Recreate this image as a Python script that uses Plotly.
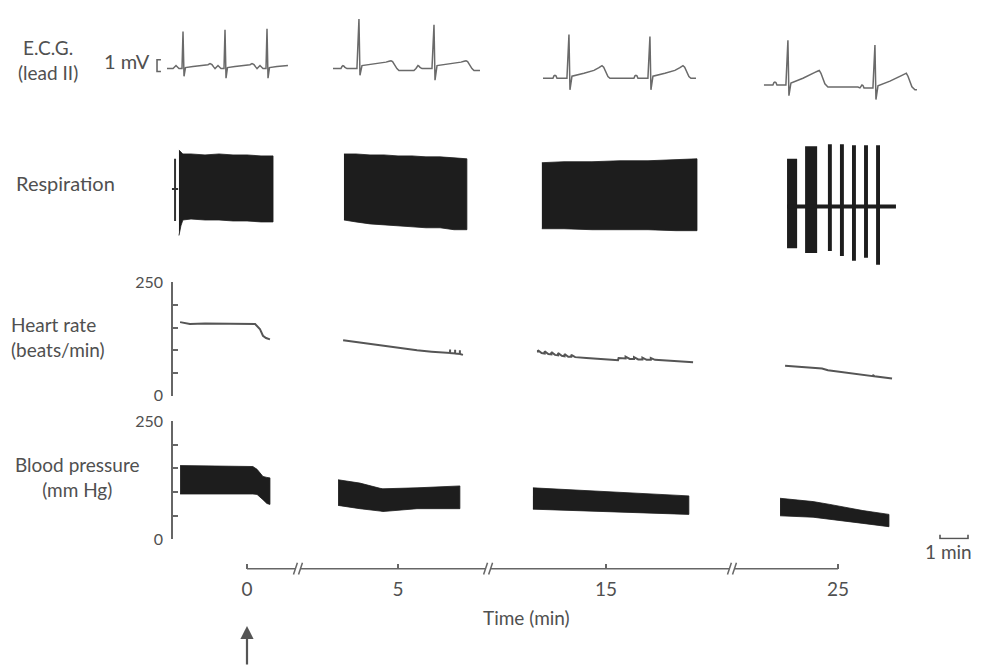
import plotly.graph_objects as go

# ---------------------------------------------------------------- data
# Broken time axis: tick times (min) and their labels
TIME_TICKS_MIN = [0, 5, 15, 25]
TIME_TICK_LABELS = ["0", "5", "15", "25"]

# Heart rate (beats/min) per recording segment, time in min
HR_A_T = [-2.39, -2.04, -1.5, -1.0, -0.5, 0.0, 0.29, 0.46, 0.57, 0.68, 0.82]
HR_A_V = [162, 158, 159, 159, 159, 159, 158, 147, 132, 127, 124]
HR_B_T = [3.04, 3.5, 4.0, 4.46, 5.0, 5.68, 6.2, 6.75, 6.86, 6.86, 6.86, 7.04, 7.04, 7.04, 7.21, 7.21, 7.21, 7.32]
HR_B_V = [122, 118, 114, 111, 106, 100, 97, 95, 94, 102, 94, 93, 101, 93, 92, 100, 92, 90]
HR_C_T = [12.57, 12.57, 12.70, 12.81, 12.81, 12.94, 13.05, 13.05, 13.18, 13.29, 13.29, 13.42,
          13.52, 13.52, 13.65, 13.76, 13.76, 13.90, 14.3, 14.8, 15.2, 15.43, 15.45, 15.7, 15.7,
          15.85, 16.0, 16.0, 16.15, 16.3, 16.3, 16.45, 16.6, 16.6, 16.75, 17.3, 17.8, 18.11]
HR_C_V = [95, 100, 94, 93, 98, 92, 91, 96, 90, 89, 94, 88, 87, 92, 86, 86, 90, 85, 83, 80, 79,
          78, 83, 82, 86, 81, 81, 85, 80, 80, 84, 79, 79, 83, 79, 77, 76, 74]
HR_D_T = [23.11, 23.5, 24.0, 24.43, 24.64, 25.2, 25.89, 26.25, 26.25, 26.3, 26.93]
HR_D_V = [66, 64, 63, 60, 56, 52, 47, 43, 46, 43, 38]

# Blood pressure (mm Hg): systolic / diastolic envelope, time in min
BP_A_T = [-2.39, 0.0, 0.21, 0.36, 0.57, 0.71, 0.82]
BP_A_SYS = [156, 155, 154, 148, 133, 131, 130]
BP_A_DIA = [96, 96, 96, 95, 84, 76, 74]
BP_B_T = [2.86, 3.64, 4.36, 4.46, 5.68, 7.21]
BP_B_SYS = [126, 119, 108, 107, 109, 113]
BP_B_DIA = [72, 65, 60, 59, 65, 65]
BP_C_T = [12.39, 15.0, 17.96]
BP_C_SYS = [109, 101, 92]
BP_C_DIA = [64, 58, 53]
BP_D_T = [22.93, 24.11, 24.71, 25.89, 26.82]
BP_D_SYS = [87, 80, 74, 61, 53]
BP_D_DIA = [50, 47, 43, 34, 27]

# Respiration (arbitrary units): envelope of the fast trace, time in min
RESP_A_T = [-2.43, -2.36, -2.29, -2.0, -1.5, -1.0, -0.5, 0.0, 0.5, 0.93]
RESP_A_UP = [5.6, 5.4, 5.2, 5.2, 5.1, 5.2, 5.1, 5.1, 5.0, 5.0]
RESP_A_LO = [-3.2, -2.2, -1.6, -1.5, -1.6, -1.6, -1.7, -1.7, -1.8, -1.8]
RESP_B_T = [3.07, 3.5, 4.0, 4.5, 5.0, 5.5, 6.0, 6.5, 7.0, 7.46]
RESP_B_UP = [5.2, 5.2, 5.1, 5.1, 5.0, 5.0, 4.9, 4.9, 4.8, 4.7]
RESP_B_LO = [-1.6, -1.8, -2.0, -2.1, -2.2, -2.3, -2.4, -2.4, -2.6, -2.6]
RESP_C_T = [12.71, 13.5, 14.5, 15.5, 16.5, 17.5, 18.25]
RESP_C_UP = [4.3, 4.4, 4.4, 4.5, 4.5, 4.6, 4.7]
RESP_C_LO = [-2.5, -2.5, -2.6, -2.6, -2.6, -2.7, -2.7]
RESP_D_BASE_T = [23.18, 27.07]
RESP_D_BASE_V = [-0.2, -0.2]
RESP_D_BREATH_T = [23.36, 24.04, 24.71, 25.14, 25.57, 26.0, 26.43]
RESP_D_TOP = [4.7, 6.0, 6.2, 6.2, 6.1, 6.1, 6.1]
RESP_D_BOT = [-4.5, -5.0, -4.8, -5.3, -5.8, -5.5, -6.2]
RESP_CAL_T = -2.57
RESP_CAL_RANGE = [4.7, -1.7]
RESP_CAL_MARK = 1.6

# ECG (lead II): per sweep, R-wave times (s from sweep start), amplitudes (mV)
ECG_SWEEP_LEN_S = [1.080, 1.3125, 1.366, 1.366]
ECG_BASE_MV = [3.33, 3.33, 2.5, 1.92]
ECG_R_TIMES = [[0.143, 0.518, 0.893], [0.232, 0.902], [0.232, 0.955], [0.214, 0.991]]
ECG_R_AMP = [[3.17, 3.33, 3.42], [4.25, 3.75], [3.75, 3.58], [3.83, 3.67]]
ECG_S_AMP = [[-0.67, -0.83, -0.83], [-0.58, -1.0], [-1.0, -1.0], [-0.92, -1.0]]
ECG_BEAT_SHIFT = [[0, 0, 0], [0, 0], [0, 0], [0, -0.25]]
# beat shapes (s relative to R, mV); None = R then S deflection
ECG_TPL_T = [
    [-0.089, -0.071, -0.0625, -0.054, -0.036, -0.009, 0.0, 0.009, 0.022, 0.089, 0.179, 0.223,
     0.241, 0.259, 0.275, 0.286],
    [-0.161, -0.152, -0.143, -0.134, -0.125, -0.107, -0.089, -0.018, 0.0, 0.009, 0.027, 0.089,
     0.179, 0.241, 0.268, 0.286, 0.300, 0.321, 0.339, 0.357, 0.491, 0.509],
    [-0.143, -0.134, -0.125, -0.116, -0.107, -0.018, 0.0, 0.009, 0.027, 0.134, 0.223, 0.268,
     0.295, 0.310, 0.330, 0.348, 0.366, 0.384],
    [-0.134, -0.125, -0.116, -0.107, -0.098, -0.018, 0.0, 0.009, 0.027, 0.134, 0.196, 0.241,
     0.268, 0.280, 0.295, 0.313, 0.330, 0.357, 0.625],
]
ECG_TPL_V = [
    [0, 0.17, 0.25, 0.17, 0, 0, None, None, 0.08, 0.17, 0.25, 0.33, 0.42, 0.33, 0.12, 0],
    [0, 0.17, 0.25, 0.2, 0.1, 0, 0, 0, None, None, 0.25, 0.33, 0.42, 0.55, 0.62, 0.67, 0.6,
     0.25, 0.0, -0.17, -0.17, 0],
    [0, 0.2, 0.25, 0.2, 0, 0, None, None, 0.17, 0.42, 0.67, 0.9, 1.08, 0.95, 0.5, 0.15, 0, 0],
    [0, 0.2, 0.25, 0.2, 0, 0, None, None, 0.17, 0.58, 0.83, 1.08, 1.2, 1.25, 1.0, 0.5, 0.1,
     -0.17, -0.17],
]
ECG_CAL_MV = 1.0
ECG_CAL_BOTTOM_MV = 3.08

# ---------------------------------------------------------------- layout constants
W, H = 987, 666
OFF = 8                      # page body margin in which the figure sits
FW, FH = W - OFF, H - OFF    # figure size
PX_PER_MIN = 28.0            # chart speed of the slow traces (1 min scale bar)
PX_PER_S = 112.0             # chart speed of the ECG sweeps
ZERO_PX = 247                # screen position of time 0
SEG_DISPLAY = [0.0, 5.393, 12.821, 21.107]   # display position of each tick time
BREAKS = [1.82, 8.61, 17.32]
ECG_X0 = [1.491, 2.973, 4.848, 6.821]        # display start of each ECG sweep (s)
ECG_CAL_X = 1.402

GREY_TXT = "#505050"
INK = "#1d1d1d"
FONT = "Lato, 'Open Sans', sans-serif"


def px(p):
    return (p - OFF) / FW


def py(p):
    return 1 - (p - OFF) / FH


def disp(seg, ts):
    return [SEG_DISPLAY[seg] + (t - TIME_TICKS_MIN[seg]) for t in ts]


fig = go.Figure()

# ---- ECG sweeps
for k in range(4):
    xs, ys = [0.0], [ECG_BASE_MV[k] + ECG_BEAT_SHIFT[k][0]]
    last = ys[0]
    for b, r in enumerate(ECG_R_TIMES[k]):
        n_none = 0
        for dt, v in zip(ECG_TPL_T[k], ECG_TPL_V[k]):
            if v is None:
                v = ECG_R_AMP[k][b] if n_none == 0 else ECG_S_AMP[k][b]
                n_none += 1
            t = r + dt
            if 0 <= t <= ECG_SWEEP_LEN_S[k]:
                xs.append(t)
                last = ECG_BASE_MV[k] + ECG_BEAT_SHIFT[k][b] + v
                ys.append(last)
    xs.append(ECG_SWEEP_LEN_S[k])
    ys.append(last)
    fig.add_trace(go.Scatter(x=[ECG_X0[k] + t for t in xs], y=ys, mode="lines",
                             line=dict(color="#6a6a6a", width=1.5),
                             xaxis="x2", yaxis="y", hoverinfo="skip"))
# 1 mV calibration bracket
fig.add_trace(go.Scatter(
    x=[ECG_CAL_X + 0.035, ECG_CAL_X, ECG_CAL_X, ECG_CAL_X + 0.035],
    y=[ECG_CAL_BOTTOM_MV + ECG_CAL_MV, ECG_CAL_BOTTOM_MV + ECG_CAL_MV, ECG_CAL_BOTTOM_MV, ECG_CAL_BOTTOM_MV],
    mode="lines", line=dict(color="#666", width=1.6), xaxis="x2", yaxis="y", hoverinfo="skip"))


def band(seg, ts, up, lo, yaxis):
    xs = disp(seg, ts)
    fig.add_trace(go.Scatter(x=xs + xs[::-1], y=list(up) + list(lo)[::-1], mode="lines",
                             fill="toself", fillcolor=INK, line=dict(color=INK, width=0.8),
                             xaxis="x", yaxis=yaxis, hoverinfo="skip"))


# ---- respiration
band(0, RESP_A_T, RESP_A_UP, RESP_A_LO, "y2")
band(1, RESP_B_T, RESP_B_UP, RESP_B_LO, "y2")
band(2, RESP_C_T, RESP_C_UP, RESP_C_LO, "y2")
fig.add_trace(go.Scatter(x=disp(3, RESP_D_BASE_T), y=RESP_D_BASE_V, mode="lines",
                         line=dict(color=INK, width=4), xaxis="x", yaxis="y2", hoverinfo="skip"))
fig.add_trace(go.Bar(x=disp(3, RESP_D_BREATH_T),
                     y=[a - b for a, b in zip(RESP_D_TOP, RESP_D_BOT)], base=RESP_D_BOT,
                     width=[0.36, 0.43, 0.14, 0.14, 0.14, 0.14, 0.14],
                     marker=dict(color=INK, line=dict(width=0)),
                     xaxis="x", yaxis="y2", hoverinfo="skip"))
cx = disp(0, [RESP_CAL_T])[0]
fig.add_trace(go.Scatter(x=[cx, cx, None, cx - 0.11, cx + 0.11],
                         y=[RESP_CAL_RANGE[0], RESP_CAL_RANGE[1], None, RESP_CAL_MARK, RESP_CAL_MARK],
                         mode="lines", line=dict(color="#333", width=2),
                         xaxis="x", yaxis="y2", hoverinfo="skip"))

# ---- heart rate
for seg, (t, v) in enumerate([(HR_A_T, HR_A_V), (HR_B_T, HR_B_V), (HR_C_T, HR_C_V), (HR_D_T, HR_D_V)]):
    fig.add_trace(go.Scatter(x=disp(seg, t), y=v, mode="lines",
                             line=dict(color="#555", width=2),
                             xaxis="x", yaxis="y3", hoverinfo="skip"))

# ---- blood pressure
band(0, BP_A_T, BP_A_SYS, BP_A_DIA, "y4")
band(1, BP_B_T, BP_B_SYS, BP_B_DIA, "y4")
band(2, BP_C_T, BP_C_SYS, BP_C_DIA, "y4")
band(3, BP_D_T, BP_D_SYS, BP_D_DIA, "y4")

# 1 min scale bar
sb0 = (940 - ZERO_PX) / PX_PER_MIN
fig.add_trace(go.Scatter(x=[sb0, sb0, sb0 + 1, sb0 + 1], y=[10, 2, 2, 10], mode="lines",
                         line=dict(color="#555", width=1.6), xaxis="x", yaxis="y4",
                         hoverinfo="skip"))

# ---- broken time axis line
lx, ly = [], []
starts = [0.0] + [b + 0.09 for b in BREAKS]
ends = [b - 0.09 for b in BREAKS] + [SEG_DISPLAY[-1]]
for s, e in zip(starts, ends):
    lx += [s, e, None]
    ly += [0.5, 0.5, None]
for b in BREAKS:
    for c in (b - 0.09, b + 0.09):
        lx += [c - 0.07, c + 0.07, None]
        ly += [0.3, 0.7, None]
fig.add_trace(go.Scatter(x=lx, y=ly, mode="lines", line=dict(color="#666", width=1.5),
                         xaxis="x", yaxis="y5", hoverinfo="skip", connectgaps=False))

# ---------------------------------------------------------------- axes
x_range = [(OFF - ZERO_PX) / PX_PER_MIN, (W - ZERO_PX) / PX_PER_MIN]
val_axis = dict(range=[0, 250], anchor="free", position=px(172), showline=True,
                linecolor="#666", linewidth=1.5, ticks="inside", ticklen=5, tickwidth=1.5,
                tickcolor="#666", tickvals=[0, 50, 100, 150, 200, 250],
                ticktext=["0", "", "", "", "", "250"], showgrid=False, zeroline=False,
                tickfont=dict(family=FONT, size=16, color=GREY_TXT), ticklabelstandoff=5)

fig.update_layout(
    width=FW, height=FH, margin=dict(l=0, r=0, t=0, b=0),
    paper_bgcolor="white", plot_bgcolor="rgba(0,0,0,0)", showlegend=False,
    xaxis=dict(range=x_range, domain=[0, 1], anchor="free", position=py(575),
               tickvals=SEG_DISPLAY, ticktext=TIME_TICK_LABELS, ticks="inside", ticklen=5,
               tickwidth=1.5, tickcolor="#666", showline=False, showgrid=False,
               zeroline=False, tickfont=dict(family=FONT, size=19, color=GREY_TXT),
               ticklabelstandoff=7),
    xaxis2=dict(range=[OFF / PX_PER_S, W / PX_PER_S], domain=[0, 1], anchor="y", visible=False),
    yaxis=dict(domain=[py(100), 1], range=[0, (100 - OFF) / 12], visible=False, anchor="x2"),
    yaxis2=dict(domain=[py(270), py(130)], range=[-7, 7], visible=False, anchor="x"),
    yaxis3=dict(domain=[py(397), py(280)], **val_axis),
    yaxis4=dict(domain=[py(545), py(423)], **val_axis),
    yaxis5=dict(domain=[py(590), py(560)], range=[0, 1], visible=False, anchor="x"),
    barmode="overlay",
)

labels = [
    ("E.C.G.<br>(lead II)", 48, 51, 19, "center", "center"),
    ("1 mV", 127, 52, 20, "center", "center"),
    ("Respiration", 65, 178, 20, "center", "center"),
    ("Heart rate<br>(beats/min)", 9, 336, 19, "left", "left"),
    ("Blood pressure<br>(mm Hg)", 77, 481, 19, "center", "center"),
    ("Time (min)", 526, 625, 19, "center", "center"),
    ("1 min", 948, 557, 19, "center", "center"),
]
for txt, x, y, s, xa, al in labels:
    fig.add_annotation(text=txt, x=px(x), y=py(y), xref="paper", yref="paper",
                       xanchor=xa, yanchor="middle", align=al, showarrow=False,
                       font=dict(family=FONT, size=s, color=GREY_TXT))

# arrow marking the start of the infusion at time 0
fig.add_annotation(x=0, y=py(634), xref="x", yref="paper", text="", showarrow=True,
                   ax=0, ay=40, arrowhead=2, arrowsize=1.2, arrowwidth=2.2, arrowcolor="#555")

fig.write_html("out.html")
